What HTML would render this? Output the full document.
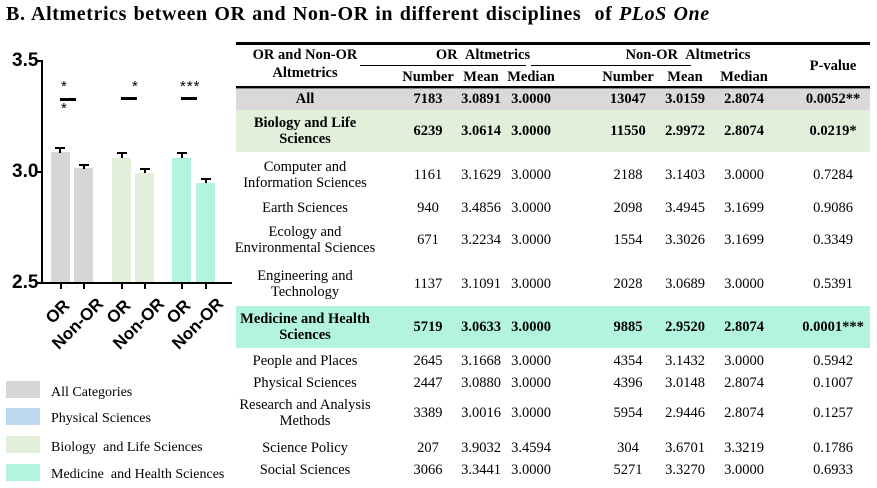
<!DOCTYPE html>
<html><head><style>
body{margin:0;width:877px;height:488px;background:#fff;position:relative;overflow:hidden;font-family:"Liberation Serif",serif;}
.a{position:absolute}
.t{position:absolute;font-size:14.5px;text-align:center;line-height:16px;transform:translate(-50%,-50%);white-space:nowrap}
.b{font-weight:bold}
.ax{font-family:"Liberation Sans",sans-serif;font-weight:bold;font-size:19px}
</style></head><body>
<div class="a b" style="left:6px;top:3px;font-size:20px;letter-spacing:0.6px;word-spacing:1px">B. Altmetrics between OR and Non-OR in different disciplines &nbsp;of <i>PLoS One</i></div>

<!-- chart -->
<div class="a" style="left:41px;top:60px;width:2px;height:224px;background:#000"></div>
<div class="a" style="left:36px;top:60px;width:6px;height:2px;background:#000"></div>
<div class="a" style="left:36px;top:171px;width:6px;height:2px;background:#000"></div>
<div class="a" style="left:36px;top:282px;width:196px;height:2px;background:#000"></div>
<div class="a ax" style="left:12px;top:50px">3.5</div>
<div class="a ax" style="left:12px;top:161px">3.0</div>
<div class="a ax" style="left:12px;top:272px">2.5</div>
<!-- bars -->
<div class="a" style="left:51px;top:152px;width:19px;height:130px;background:#d6d6d6"></div>
<div class="a" style="left:74px;top:168px;width:19px;height:114px;background:#d6d6d6"></div>
<div class="a" style="left:112px;top:158px;width:19px;height:124px;background:#e2efdb"></div>
<div class="a" style="left:135px;top:173px;width:19px;height:109px;background:#e2efdb"></div>
<div class="a" style="left:172px;top:158px;width:19px;height:124px;background:#b3f5dc"></div>
<div class="a" style="left:196px;top:183px;width:19px;height:99px;background:#b3f5dc"></div>
<!-- error bars -->
<div class="a" style="left:59px;top:147px;width:2px;height:6px;background:#000"></div><div class="a" style="left:55px;top:147px;width:10px;height:2px;background:#000"></div>
<div class="a" style="left:83px;top:164px;width:2px;height:5px;background:#000"></div><div class="a" style="left:79px;top:164px;width:10px;height:2px;background:#000"></div>
<div class="a" style="left:121px;top:152px;width:2px;height:6px;background:#000"></div><div class="a" style="left:117px;top:152px;width:10px;height:2px;background:#000"></div>
<div class="a" style="left:144px;top:168px;width:2px;height:5px;background:#000"></div><div class="a" style="left:140px;top:168px;width:10px;height:2px;background:#000"></div>
<div class="a" style="left:181px;top:152px;width:2px;height:6px;background:#000"></div><div class="a" style="left:177px;top:152px;width:10px;height:2px;background:#000"></div>
<div class="a" style="left:205px;top:178px;width:2px;height:5px;background:#000"></div><div class="a" style="left:201px;top:178px;width:10px;height:2px;background:#000"></div>
<!-- ticks -->
<div class="a" style="left:60px;top:284px;width:2px;height:5px;background:#000"></div>
<div class="a" style="left:83px;top:284px;width:2px;height:5px;background:#000"></div>
<div class="a" style="left:121px;top:284px;width:2px;height:5px;background:#000"></div>
<div class="a" style="left:144px;top:284px;width:2px;height:5px;background:#000"></div>
<div class="a" style="left:181px;top:284px;width:2px;height:5px;background:#000"></div>
<div class="a" style="left:205px;top:284px;width:2px;height:5px;background:#000"></div>
<!-- sig -->
<div class="a" style="left:60px;top:98px;width:16px;height:3px;background:#000"></div>
<div class="a" style="left:121px;top:97px;width:16px;height:3px;background:#000"></div>
<div class="a" style="left:181px;top:97px;width:16px;height:3px;background:#000"></div>
<div class="a" style="left:61px;top:78px;font-family:'Liberation Sans';font-size:15px">*</div>
<div class="a" style="left:61px;top:100px;font-family:'Liberation Sans';font-size:15px">*</div>
<div class="a" style="left:132px;top:78px;font-family:'Liberation Sans';font-size:15px">*</div>
<div class="a" style="left:180px;top:78px;font-family:'Liberation Sans';font-size:15px;letter-spacing:1px">***</div>
<!-- x labels -->
<div class="t ax" style="left:58px;top:312px;transform:translate(-50%,-50%) rotate(-45deg);font-size:17px">OR</div>
<div class="t ax" style="left:78px;top:324px;transform:translate(-50%,-50%) rotate(-45deg);font-size:17px">Non-OR</div>
<div class="t ax" style="left:119px;top:312px;transform:translate(-50%,-50%) rotate(-45deg);font-size:17px">OR</div>
<div class="t ax" style="left:139px;top:324px;transform:translate(-50%,-50%) rotate(-45deg);font-size:17px">Non-OR</div>
<div class="t ax" style="left:179px;top:312px;transform:translate(-50%,-50%) rotate(-45deg);font-size:17px">OR</div>
<div class="t ax" style="left:198px;top:324px;transform:translate(-50%,-50%) rotate(-45deg);font-size:17px">Non-OR</div>
<!-- legend -->
<div class="a" style="left:6px;top:381px;width:34px;height:17px;background:#d6d6d6"></div>
<div class="a" style="left:6px;top:408px;width:34px;height:17px;background:#bdd7ee"></div>
<div class="a" style="left:6px;top:436px;width:34px;height:17px;background:#e2efdb"></div>
<div class="a" style="left:6px;top:464px;width:34px;height:17px;background:#b3f5dc"></div>
<div class="a" style="left:51px;top:385px;font-size:14px">All Categories</div>
<div class="a" style="left:51px;top:411px;font-size:14px">Physical Sciences</div>
<div class="a" style="left:51px;top:440px;font-size:14px">Biology &nbsp;and Life Sciences</div>
<div class="a" style="left:51px;top:467px;font-size:14px">Medicine &nbsp;and Health Sciences</div>

<!-- table -->
<div class="a" style="left:236px;top:42px;width:634px;height:3px;background:#000"></div>
<div class="a" style="left:360px;top:65px;width:166px;height:1px;background:#000"></div>
<div class="a" style="left:531px;top:65px;width:160px;height:1px;background:#000"></div>
<div class="a" style="left:236px;top:86px;width:634px;height:2px;background:#000"></div>
<div class="a" style="left:236px;top:88px;width:634px;height:22px;background:#d9d9d9"></div>
<div class="a" style="left:236px;top:88px;width:634px;height:1px;background:#888"></div>
<div class="a" style="left:236px;top:110px;width:634px;height:42px;background:#e2efdb"></div>
<div class="a" style="left:236px;top:306px;width:634px;height:42px;background:#b3f5dc"></div>

<div class="t b" style="left:305px;top:55px">OR and Non-OR</div>
<div class="t b" style="left:305px;top:73px">Altmetrics</div>
<div class="t b" style="left:483px;top:55px">OR &nbsp;Altmetrics</div>
<div class="t b" style="left:688px;top:55px">Non-OR &nbsp;Altmetrics</div>
<div class="t b" style="left:833px;top:66px">P-value</div>
<div class="t b" style="left:428px;top:77px">Number</div>
<div class="t b" style="left:481px;top:77px">Mean</div>
<div class="t b" style="left:531px;top:77px">Median</div>
<div class="t b" style="left:628px;top:77px">Number</div>
<div class="t b" style="left:685px;top:77px">Mean</div>
<div class="t b" style="left:744px;top:77px">Median</div>

<div class="t b" style="left:305px;top:99px">All</div>
<div class="t b" style="left:305px;top:131px">Biology and Life<br>Sciences</div>
<div class="t" style="left:305px;top:175px">Computer and<br>Information Sciences</div>
<div class="t" style="left:305px;top:208px">Earth Sciences</div>
<div class="t" style="left:305px;top:240px">Ecology and<br>Environmental Sciences</div>
<div class="t" style="left:305px;top:284px">Engineering and<br>Technology</div>
<div class="t b" style="left:305px;top:327px">Medicine and Health<br>Sciences</div>
<div class="t" style="left:305px;top:361px">People and Places</div>
<div class="t" style="left:305px;top:383px">Physical Sciences</div>
<div class="t" style="left:305px;top:413px">Research and Analysis<br>Methods</div>
<div class="t" style="left:305px;top:448px">Science Policy</div>
<div class="t" style="left:305px;top:470px">Social Sciences</div>

<div id="rows"></div>
<script>
var d=[[99,1,"7183","3.0891","3.0000","13047","3.0159","2.8074","0.0052**"],
[131,1,"6239","3.0614","3.0000","11550","2.9972","2.8074","0.0219*"],
[175,0,"1161","3.1629","3.0000","2188","3.1403","3.0000","0.7284"],
[208,0,"940","3.4856","3.0000","2098","3.4945","3.1699","0.9086"],
[240,0,"671","3.2234","3.0000","1554","3.3026","3.1699","0.3349"],
[284,0,"1137","3.1091","3.0000","2028","3.0689","3.0000","0.5391"],
[327,1,"5719","3.0633","3.0000","9885","2.9520","2.8074","0.0001***"],
[361,0,"2645","3.1668","3.0000","4354","3.1432","3.0000","0.5942"],
[383,0,"2447","3.0880","3.0000","4396","3.0148","2.8074","0.1007"],
[413,0,"3389","3.0016","3.0000","5954","2.9446","2.8074","0.1257"],
[448,0,"207","3.9032","3.4594","304","3.6701","3.3219","0.1786"],
[470,0,"3066","3.3441","3.0000","5271","3.3270","3.0000","0.6933"]];
var xs=[428,481,531,628,685,744,833],h="";
d.forEach(function(r){for(var i=0;i<7;i++)h+='<div class="t'+(r[1]?' b':'')+'" style="left:'+xs[i]+'px;top:'+r[0]+'px">'+r[i+2]+'</div>';});
document.getElementById("rows").innerHTML=h;
</script>
</body></html>
